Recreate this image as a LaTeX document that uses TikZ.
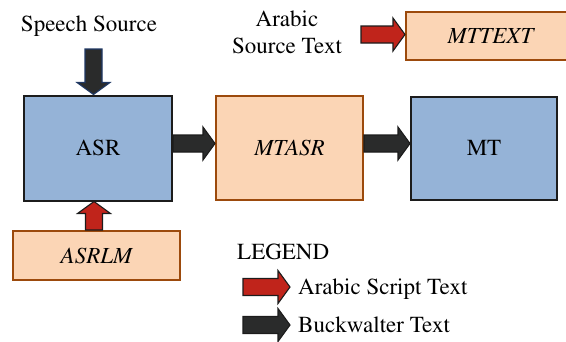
\documentclass[tikz,border=0pt]{standalone}
\usepackage[T1]{fontenc}
\usepackage{mathptmx}
\usetikzlibrary{calc}

\definecolor{modblue}{HTML}{95B3D7}
\definecolor{modedge}{HTML}{1C1C1C}
\definecolor{lmfill}{HTML}{FBD5B5}
\definecolor{lmedge}{HTML}{9C4A0C}
\definecolor{arabicred}{HTML}{C0241B}
\definecolor{bwdark}{HTML}{2A2B2B}
\definecolor{navyedge}{HTML}{1F3864}

% block arrow: #1 style, #2 tail point, #3 tip point
\newcommand{\fatarrow}[3]{%
  \path (#3) coordinate (fa-tip) ($(#3)!12pt!(#2)$) coordinate (fa-base);
  \draw[#1] ($(#2)!8.5pt!90:(#3)$) -- ($(fa-base)!8.5pt!90:(fa-tip)$)
    -- ($(fa-base)!16.5pt!90:(fa-tip)$) -- (fa-tip)
    -- ($(fa-base)!16.5pt!-90:(fa-tip)$) -- ($(fa-base)!8.5pt!-90:(fa-tip)$)
    -- ($(#2)!8.5pt!-90:(#3)$) -- cycle;
}

\tikzset{
  every node/.style={font=\fontsize{23}{27}\selectfont, inner sep=0pt},
  module/.style={draw=modedge, fill=modblue, line width=2pt},
  resource/.style={draw=lmedge, fill=lmfill, line width=2pt, font=\fontsize{23}{27}\selectfont\itshape},
  redarrow/.style={fill=arabicred, draw=modedge, line width=1.1pt, line join=miter},
  darkarrow/.style={fill=bwdark, draw=modedge, line width=1.1pt, line join=miter},
  legendtext/.style={anchor=base west},
}

\begin{document}
\begin{tikzpicture}[x=1pt, y=-1pt]
  \clip (0,0) rectangle (566,341);

  % pipeline modules
  \node[module, minimum width=148pt, minimum height=105pt] (asr) at (98,148) {ASR};
  \node[resource, minimum width=147pt, minimum height=104pt] (mtasr) at (289.5,148) {MTASR};
  \node[module, minimum width=146pt, minimum height=103pt] (mt) at (484,148.5) {MT};

  % language / translation resources
  \node[resource, minimum width=169pt, minimum height=48pt] (mttext) at (490.5,36) {MTTEXT};
  \node[resource, minimum width=167pt, minimum height=49pt] (asrlm) at (96.5,255.5) {ASRLM};

  % input labels
  \node[anchor=base] (speech) at (89,31.5) {Speech Source};
  \node[align=center] (arabsrc) at (287,32.6) {Arabic\\Source Text};

  % connector anchors
  \coordinate (speechtail) at (93.5,49);
  \coordinate (lmx) at (94,0);
  \coordinate (rowy) at (0,143.5);
  \coordinate (srctail) at (361,34.5);

  % block arrows
  \fatarrow{darkarrow, draw=navyedge}{speechtail}{speechtail |- asr.north}
  \fatarrow{redarrow}{lmx |- asrlm.north}{lmx |- asr.south}
  \fatarrow{darkarrow}{asr.east |- rowy}{mtasr.west |- rowy}
  \fatarrow{darkarrow}{mtasr.east |- rowy}{mt.west |- rowy}
  \fatarrow{redarrow}{srctail}{mttext.west |- srctail}

  % legend
  \node[legendtext] (legend) at (237,259) {LEGEND};
  \node[legendtext] (lgred) at (298,294) {Arabic Script Text};
  \node[legendtext] (lgdark) at (298,332) {Buckwalter Text};
  \coordinate (lgredtail) at (243,287);
  \coordinate (lgredtip) at (290,287);
  \coordinate (lgdarktail) at (243,325);
  \coordinate (lgdarktip) at (290,325);
  \fatarrow{redarrow}{lgredtail}{lgredtip}
  \fatarrow{darkarrow}{lgdarktail}{lgdarktip}
\end{tikzpicture}
\end{document}
